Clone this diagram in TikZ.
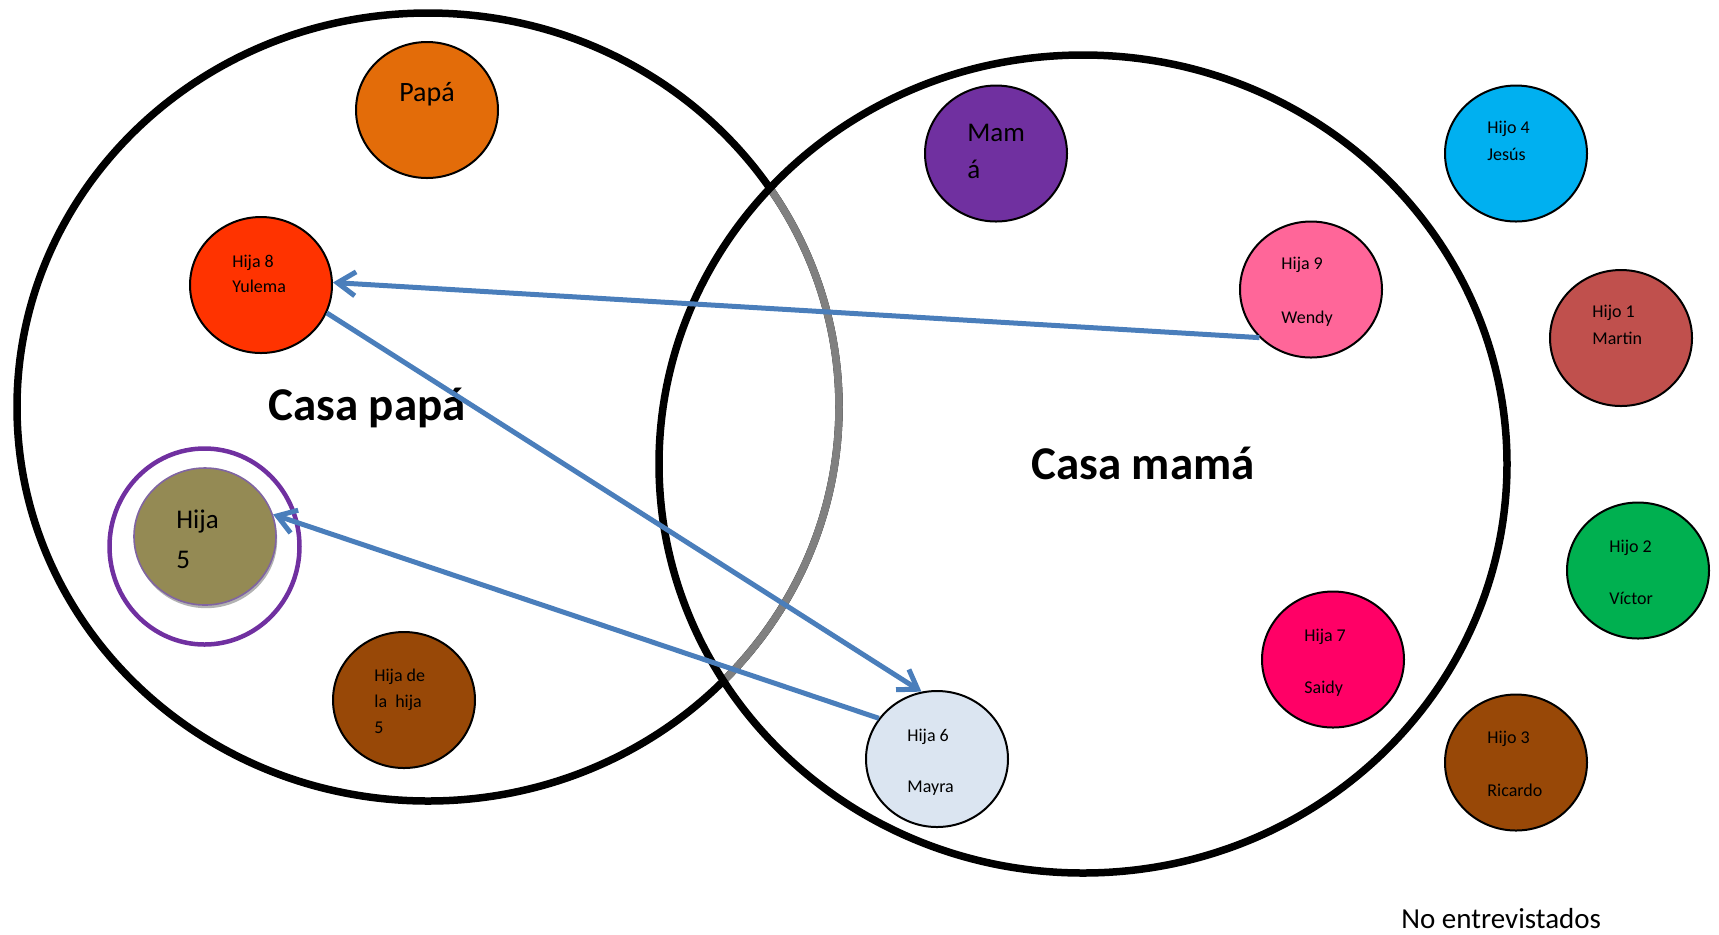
\documentclass[tikz,border=0pt]{standalone}
\usepackage{fontspec}
\setmainfont{Carlito}
\usetikzlibrary{shapes.geometric,arrows.meta,shadows}
\definecolor{cPapa}{HTML}{E36C09}
\definecolor{cYulema}{HTML}{FF3300}
\definecolor{cOlive}{HTML}{948A54}
\definecolor{cBrown}{HTML}{984807}
\definecolor{cPurple}{HTML}{7030A0}
\definecolor{cLav}{HTML}{8064A2}
\definecolor{cWendy}{HTML}{FF6699}
\definecolor{cJesus}{HTML}{00B0F0}
\definecolor{cMartin}{HTML}{C0504D}
\definecolor{cVictor}{HTML}{00B050}
\definecolor{cSaidy}{HTML}{FF0066}
\definecolor{cMayra}{HTML}{DBE5F1}
\definecolor{arrowblue}{HTML}{4A7EBB}
\definecolor{cGray}{HTML}{808080}
\begin{document}
\begin{tikzpicture}[x=0.5pt,y=-0.5pt,
  pers/.style={ellipse,draw=black,line width=1pt,minimum width=71pt,minimum height=68pt,inner sep=0pt},
  lbl/.style={font=\fontsize{9}{11}\selectfont,anchor=base west,inner sep=0pt},
  midlbl/.style={font=\fontsize{13.5}{16}\selectfont,anchor=base west,inner sep=0pt},
  title/.style={font=\fontsize{23.5}{28}\selectfont\bfseries,anchor=base,inner sep=0pt},
  big/.style={ellipse,draw=black,line width=3.75pt,inner sep=0pt},
  rel/.style={draw=arrowblue,line width=2.5pt,-{Straight Barb[length=9pt,width=12pt]}}]
\useasboundingbox (0,0) rectangle (1719,934);
% big houses
\node[big,minimum width=411pt,minimum height=394pt] (casapapa) at (428,407) {};
\begin{scope}
  \clip (1083,464) ellipse [x radius=424, y radius=409];
  \draw[cGray,line width=3.75pt] (428,407) ellipse [x radius=411, y radius=394];
\end{scope}
\node[big,minimum width=424pt,minimum height=409pt] (casamama) at (1083,464) {};
\node[title] (tpapa) at (367,420) {Casa papá};
\node[title] (tmama) at (1143,479) {Casa mamá};
% persons
\node[pers,fill=cPapa] (papa) at (427,110) {};
\node[font=\fontsize{14}{17}\selectfont,anchor=base,inner sep=0pt] (tpapa2) at (427,101) {Papá};
\node[pers,fill=cYulema] (yulema) at (261,285) {};
\node[lbl] (ty1) at (232,267) {Hija 8};
\node[lbl] (ty2) at (232,292) {Yulema};
\node[ellipse,draw=cPurple,line width=2.25pt,minimum width=95pt,minimum height=98pt,inner sep=0pt] (ring5) at (204.5,546.5) {};
\node[ellipse,draw=cLav,line width=0.8pt,fill=cOlive,minimum width=71pt,minimum height=68.5pt,inner sep=0pt,
  drop shadow={shadow xshift=0.6pt,shadow yshift=-1.6pt,opacity=0.3,fill=black}] (hija5) at (205,536.5) {};
\node[midlbl] (th5a) at (176,528) {Hija};
\node[midlbl] (th5b) at (176,568) {5};
\node[pers,fill=cBrown] (nieta) at (404,700) {};
\node[lbl] (tn1) at (374,681) {Hija de};
\node[lbl] (tn2) at (374,707) {la\ \ hija};
\node[lbl] (tn3) at (374,733) {5};
\node[pers,fill=cPurple] (mama) at (996,153.5) {};
\node[midlbl] (tm1) at (967,141) {Mam};
\node[midlbl] (tm2) at (967,178) {á};
\node[pers,fill=cWendy] (wendy) at (1311,289.5) {};
\node[lbl] (tw1) at (1281,269) {Hija 9};
\node[lbl] (tw2) at (1281,323) {Wendy};
\node[pers,fill=cMayra] (mayra) at (937,759) {};
\node[lbl] (tmy1) at (907,741) {Hija 6};
\node[lbl] (tmy2) at (907,792) {Mayra};
\node[pers,fill=cSaidy] (saidy) at (1333,659.5) {};
\node[lbl] (ts1) at (1304,641) {Hija 7};
\node[lbl] (ts2) at (1304,693) {Saidy};
\node[pers,fill=cJesus] (jesus) at (1516,153.5) {};
\node[lbl] (tj1) at (1487,133.5) {Hijo 4};
\node[lbl] (tj2) at (1487,160) {Jesús};
\node[pers,fill=cMartin] (martin) at (1621,338) {};
\node[lbl] (tma1) at (1592,317.5) {Hijo 1};
\node[lbl] (tma2) at (1592,344) {Martin};
\node[pers,fill=cVictor] (victor) at (1638,570.5) {};
\node[lbl] (tv1) at (1609,552) {Hijo 2};
\node[lbl] (tv2) at (1609,604) {Víctor};
\node[pers,fill=cBrown] (ricardo) at (1516,762.5) {};
\node[lbl] (tr1) at (1487,743) {Hijo 3};
\node[lbl] (tr2) at (1487,796) {Ricardo};
\node[font=\fontsize{14.5}{17}\selectfont,anchor=base west,inner sep=0pt] (noent) at (1401,928) {No entrevistados};
% relations
\draw[rel] (wendy.223) -- (yulema.2);
\draw[rel] (yulema.-23) -- (mayra.103);
\draw[rel] (mayra.145) -- (hija5.18);
\end{tikzpicture}
\end{document}
